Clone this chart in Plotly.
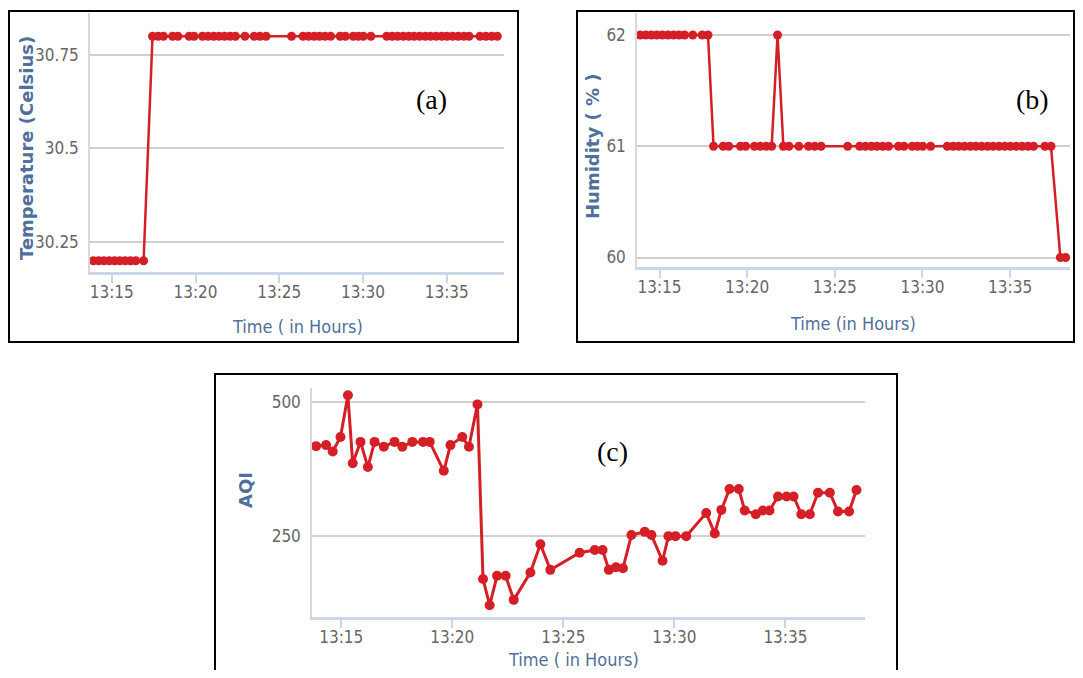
import plotly.graph_objects as go

DAY = "2021-01-01 "

# ---------------- data ----------------
temp_times = [
    "13:13:54", "13:14:13", "13:14:32", "13:14:51", "13:15:10", "13:15:29", "13:15:48", "13:16:07", "13:16:26", "13:16:54",
    "13:17:26", "13:17:46", "13:18:05", "13:18:38", "13:18:57", "13:19:37", "13:19:55", "13:20:25", "13:20:45", "13:21:05",
    "13:21:24", "13:21:44", "13:22:04", "13:22:23", "13:22:57", "13:23:30", "13:23:51", "13:24:13",
    "13:25:44", "13:26:25", "13:26:45", "13:27:05", "13:27:24", "13:27:44", "13:28:04", "13:28:38", "13:28:57", "13:29:25",
    "13:29:43", "13:30:01", "13:30:28",
    "13:31:25", "13:31:45", "13:32:04", "13:32:24", "13:32:44", "13:33:03", "13:33:23", "13:33:43", "13:34:02", "13:34:22",
    "13:34:42", "13:35:01", "13:35:21", "13:35:41", "13:36:01", "13:36:20",
    "13:36:59", "13:37:20", "13:37:41", "13:38:01",
]
temp_values = [
    30.2, 30.2, 30.2, 30.2, 30.2, 30.2, 30.2, 30.2, 30.2, 30.2,
    30.8, 30.8, 30.8, 30.8, 30.8, 30.8, 30.8, 30.8, 30.8, 30.8,
    30.8, 30.8, 30.8, 30.8, 30.8, 30.8, 30.8, 30.8,
    30.8, 30.8, 30.8, 30.8, 30.8, 30.8, 30.8, 30.8, 30.8, 30.8,
    30.8, 30.8, 30.8,
    30.8, 30.8, 30.8, 30.8, 30.8, 30.8, 30.8, 30.8, 30.8, 30.8,
    30.8, 30.8, 30.8, 30.8, 30.8, 30.8,
    30.8, 30.8, 30.8, 30.8,
]

hum_times = [
    "13:13:54", "13:14:13", "13:14:32", "13:14:51", "13:15:10", "13:15:29", "13:15:48", "13:16:07", "13:16:26", "13:16:54",
    "13:17:26", "13:17:46", "13:18:05", "13:18:38", "13:18:57", "13:19:37", "13:19:55", "13:20:25", "13:20:45", "13:21:05",
    "13:21:24", "13:21:44", "13:22:04", "13:22:23", "13:22:57", "13:23:30", "13:23:51", "13:24:13",
    "13:25:44", "13:26:25", "13:26:45", "13:27:05", "13:27:24", "13:27:44", "13:28:04", "13:28:38", "13:28:57", "13:29:25",
    "13:29:43", "13:30:01", "13:30:28",
    "13:31:25", "13:31:45", "13:32:04", "13:32:24", "13:32:44", "13:33:03", "13:33:23", "13:33:43", "13:34:02", "13:34:22",
    "13:34:42", "13:35:01", "13:35:21", "13:35:41", "13:36:01", "13:36:20",
    "13:36:59", "13:37:20", "13:37:52", "13:38:10",
]
hum_values = [
    62, 62, 62, 62, 62, 62, 62, 62, 62, 62,
    62, 62, 61, 61, 61, 61, 61, 61, 61, 61,
    61, 62, 61, 61, 61, 61, 61, 61,
    61, 61, 61, 61, 61, 61, 61, 61, 61, 61,
    61, 61, 61,
    61, 61, 61, 61, 61, 61, 61, 61, 61, 61,
    61, 61, 61, 61, 61, 61,
    61, 61, 60, 60,
]

aqi_times = [
    "13:13:52", "13:14:19", "13:14:37", "13:14:58", "13:15:18", "13:15:31", "13:15:52", "13:16:12", "13:16:30", "13:16:55",
    "13:17:24", "13:17:45", "13:18:12", "13:18:41", "13:18:59", "13:19:37", "13:19:55", "13:20:27", "13:20:45", "13:21:08",
    "13:21:23", "13:21:41", "13:22:01", "13:22:24", "13:22:46", "13:23:31", "13:23:58", "13:24:25", "13:25:44", "13:26:25",
    "13:26:46", "13:27:03", "13:27:22", "13:27:41", "13:28:04", "13:28:40", "13:28:58", "13:29:28", "13:29:44", "13:30:03",
    "13:30:32", "13:31:26", "13:31:49", "13:32:07", "13:32:29", "13:32:54", "13:33:10", "13:33:40", "13:33:59", "13:34:17",
    "13:34:40", "13:35:03", "13:35:22", "13:35:43", "13:36:06", "13:36:28", "13:37:00", "13:37:22", "13:37:52", "13:38:12",
]
aqi_values = [
    417, 419, 407, 434, 512, 385, 425, 378, 425, 416,
    425, 416, 425, 425, 425, 371, 419, 434, 416, 495,
    169, 120, 175, 175, 130, 181, 234, 186, 218, 223,
    223, 186, 191, 189, 251, 257, 251, 203, 249, 249,
    249, 292, 254, 298, 337, 337, 297, 290, 297, 297,
    323, 323, 323, 290, 290, 330, 330, 295, 295, 335,
]

x_tick_labels = ["13:15", "13:20", "13:25", "13:30", "13:35"]
temp_tick_values = [30.25, 30.5, 30.75]
temp_tick_labels = ["30.25", "30.5", "30.75"]
hum_tick_values = [60, 61, 62]
hum_tick_labels = ["60", "61", "62"]
aqi_tick_values = [250, 500]
aqi_tick_labels = ["250", "500"]

panel_labels = ["(a)", "(b)", "(c)"]
y_titles = ["Temperature (Celsius)", "Humidity ( % )", "AQI"]
x_titles = ["Time ( in Hours)", "Time (in Hours)", "Time ( in Hours)"]

# ---------------- styling ----------------
# The page body keeps its default 8px margin, so the figure is sized to
# exactly fill the 1083x678 window and coordinates are given in window pixels.
OFF = 8
W, H = 1083 - 2 * OFF, 678 - 2 * OFF


def px(x):
    return (x - OFF) / W


def py(y):
    return 1 - (y - OFF) / H


RED = "#d51f26"
GRID = "#d0d0d0"
XLINE = "#ccd6eb"
TICK_GRAY = "#666666"
TITLE_BLUE = "#4f709b"
NARROW = "Liberation Sans Narrow, Arial Narrow, DejaVu Sans Condensed, Roboto Condensed, sans-serif"
tick_font = dict(family=NARROW, size=17, color=TICK_GRAY)

x_tick_vals = [DAY + t + ":00" for t in x_tick_labels]

fig = go.Figure()
fig.add_trace(go.Scatter(
    x=[DAY + t for t in temp_times], y=temp_values, mode="lines+markers",
    line=dict(color=RED, width=2.5), marker=dict(color=RED, size=9),
    xaxis="x", yaxis="y", showlegend=False, cliponaxis=False))
fig.add_trace(go.Scatter(
    x=[DAY + t for t in hum_times], y=hum_values, mode="lines+markers",
    line=dict(color=RED, width=2.5), marker=dict(color=RED, size=9),
    xaxis="x2", yaxis="y2", showlegend=False, cliponaxis=False))
fig.add_trace(go.Scatter(
    x=[DAY + t for t in aqi_times], y=aqi_values, mode="lines+markers",
    line=dict(color=RED, width=3), marker=dict(color=RED, size=10),
    xaxis="x3", yaxis="y3", showlegend=False, cliponaxis=False))


def xaxis(domain, rng, anchor):
    return dict(domain=domain, range=[DAY + rng[0], DAY + rng[1]], type="date", anchor=anchor,
                tickvals=x_tick_vals, ticktext=x_tick_labels, ticks="outside", ticklen=8,
                tickwidth=1.5, tickcolor=XLINE, showline=True, linecolor=XLINE, linewidth=2.5,
                showgrid=False, zeroline=False, tickfont=tick_font, fixedrange=True,
                ticklabelstandoff=-5, automargin=False)


def yaxis(domain, rng, vals, labels, anchor):
    return dict(domain=domain, range=rng, anchor=anchor, tickvals=vals, ticktext=labels,
                showgrid=True, gridcolor=GRID, gridwidth=2, showline=True, linecolor="#d8d8d8",
                linewidth=1.5, zeroline=False, ticks="", tickfont=tick_font,
                ticklabelstandoff=6, fixedrange=True, automargin=False)


fig.update_layout(
    width=W, height=H, margin=dict(l=0, r=0, t=0, b=0),
    paper_bgcolor="white", plot_bgcolor="white",
    xaxis=xaxis([px(90), px(504)], ["13:13:42", "13:38:25"], "y"),
    yaxis=yaxis([py(272), py(13)], [30.17, 30.862], temp_tick_values, temp_tick_labels, "x"),
    xaxis2=xaxis([px(637), px(1070)], ["13:13:43", "13:38:25"], "y2"),
    yaxis2=yaxis([py(267), py(13)], [59.915, 62.198], hum_tick_values, hum_tick_labels, "x2"),
    xaxis3=xaxis([px(312), px(865)], ["13:13:41", "13:38:35"], "y3"),
    yaxis3=yaxis([py(617), py(388)], [98, 525.6], aqi_tick_values, aqi_tick_labels, "x3"),
)

# panel borders
for x0, y0, x1, y1 in [(9, 11, 518, 342), (577, 11, 1074, 342), (215, 374, 897, 700)]:
    fig.add_shape(type="rect", xref="paper", yref="paper",
                  x0=px(x0), x1=px(x1), y0=py(y1), y1=py(y0),
                  line=dict(color="black", width=2), fillcolor="rgba(0,0,0,0)")

ann = []
# panel labels
for text, (x, y) in zip(panel_labels, [(431, 99), (1032, 99), (612, 451)]):
    ann.append(dict(text=text, x=px(x), y=py(y), xref="paper", yref="paper", showarrow=False,
                    xanchor="center", yanchor="middle",
                    font=dict(family="Liberation Serif, Times New Roman, serif", size=28, color="black")))
# y titles
for text, (x, y) in zip(y_titles, [(26, 148), (592, 146), (245, 490)]):
    ann.append(dict(text="<b>" + text + "</b>", x=px(x), y=py(y), xref="paper", yref="paper",
                    showarrow=False, textangle=-90, xanchor="center", yanchor="middle",
                    font=dict(family="DejaVu Sans, Verdana, sans-serif", size=18, color=TITLE_BLUE)))
# x titles
for text, (x, y) in zip(x_titles, [(297, 327), (853, 323), (573, 659)]):
    ann.append(dict(text=text, x=px(x), y=py(y), xref="paper", yref="paper", showarrow=False,
                    xanchor="center", yanchor="middle",
                    font=dict(family=NARROW, size=18, color=TITLE_BLUE)))
fig.update_layout(annotations=ann)

fig.write_html("out.html")
